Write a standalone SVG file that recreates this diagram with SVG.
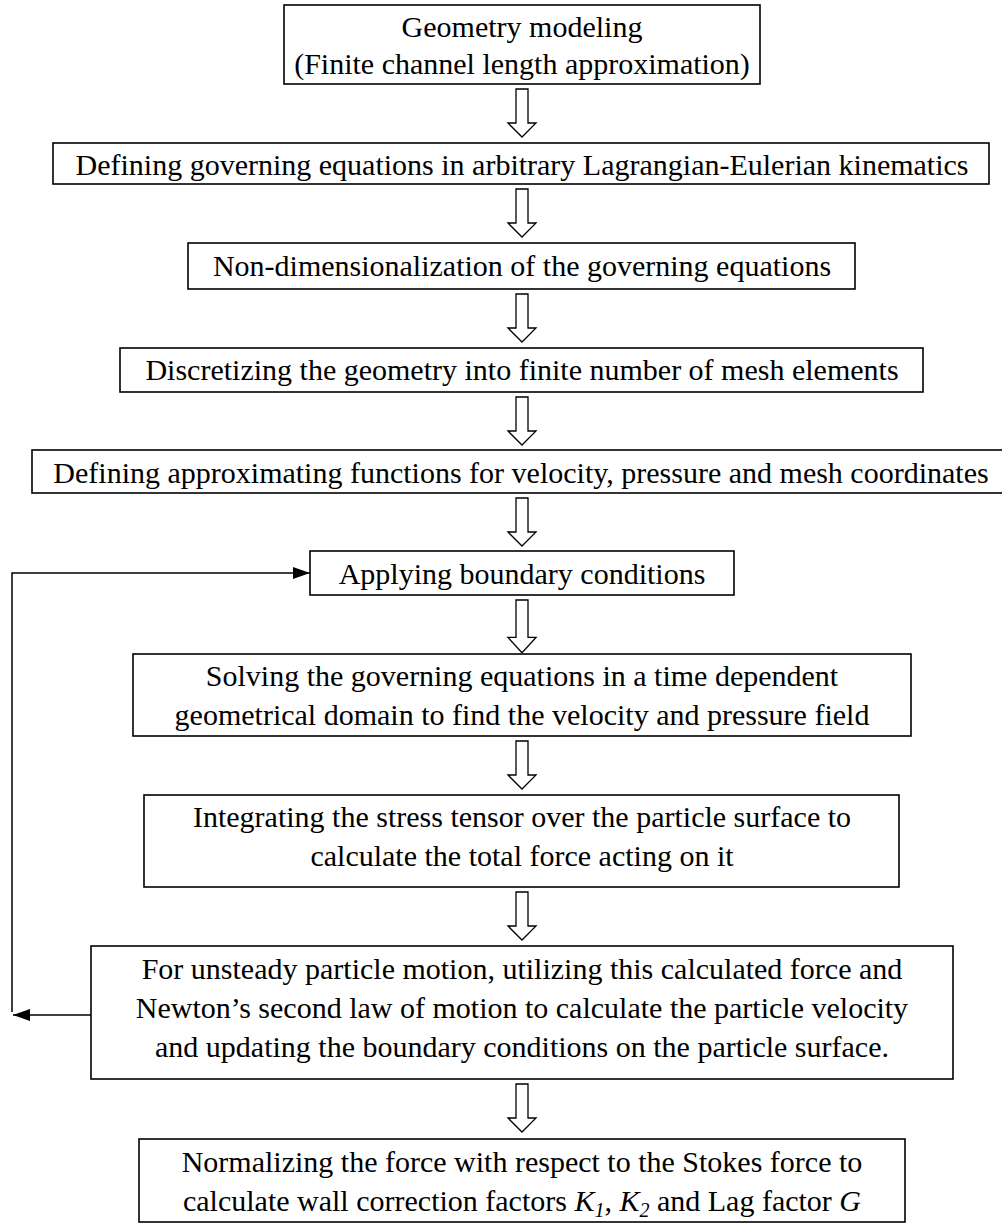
<svg xmlns="http://www.w3.org/2000/svg" width="1002" height="1224" viewBox="0 0 1002 1224">
<style>
.box{fill:#fff;stroke:#000;stroke-width:1.6}
.t{font-family:"Liberation Serif","Times New Roman",serif;font-size:30px;fill:#000;text-anchor:middle}
.ha{fill:#fff;stroke:#000;stroke-width:1.3;stroke-linejoin:miter}
.ln{fill:none;stroke:#000;stroke-width:1.5}
.i{font-style:italic}
</style>
<defs>
<marker id="ah" markerUnits="userSpaceOnUse" markerWidth="17" markerHeight="12" refX="17" refY="6" orient="auto">
<path d="M0,0 L17,6 L0,12 z" fill="#000"/>
</marker>
<path id="hollow" d="M-6,0 H6 V34 H14 L0,48 L-14,34 H-6 Z"/>
</defs>
<g id="n1"><rect class="box" x="284" y="5" width="476" height="79"/><text class="t" x="522" y="37">Geometry modeling</text><text class="t" x="522" y="74">(Finite channel length approximation)</text></g>
<g id="n2"><rect class="box" x="53" y="143" width="936" height="41"/><text class="t" x="522" y="175">Defining governing equations in arbitrary Lagrangian-Eulerian kinematics</text></g>
<g id="n3"><rect class="box" x="188" y="243" width="667" height="46"/><text class="t" x="522" y="276">Non-dimensionalization of the governing equations</text></g>
<g id="n4"><rect class="box" x="120" y="348" width="803" height="44"/><text class="t" x="522" y="380">Discretizing the geometry into finite number of mesh elements</text></g>
<g id="n5"><rect class="box" x="32" y="450" width="972" height="43"/><text class="t" x="521" y="483">Defining approximating functions for velocity, pressure and mesh coordinates</text></g>
<g id="n6"><rect class="box" x="310" y="551" width="424" height="44"/><text class="t" x="522" y="584">Applying boundary conditions</text></g>
<g id="n7"><rect class="box" x="133" y="654" width="778" height="82"/><text class="t" x="522" y="686">Solving the governing equations in a time dependent</text><text class="t" x="522" y="725">geometrical domain to find the velocity and pressure field</text></g>
<g id="n8"><rect class="box" x="144" y="795" width="755" height="92"/><text class="t" x="522" y="827">Integrating the stress tensor over the particle surface to</text><text class="t" x="522" y="866">calculate the total force acting on it</text></g>
<g id="n9"><rect class="box" x="91" y="946" width="862" height="133"/><text class="t" x="522" y="979">For unsteady particle motion, utilizing this calculated force and</text><text class="t" x="522" y="1018">Newton’s second law of motion to calculate the particle velocity</text><text class="t" x="522" y="1057">and updating the boundary conditions on the particle surface.</text></g>
<g id="n10"><rect class="box" x="139" y="1139" width="766" height="83"/><text class="t" x="522" y="1172">Normalizing the force with respect to the Stokes force to</text><text class="t" x="522" y="1211">calculate wall correction factors <tspan class="i">K</tspan><tspan class="i" font-size="20" dy="6">1</tspan><tspan dy="-6">, </tspan><tspan class="i">K</tspan><tspan class="i" font-size="20" dy="6">2</tspan><tspan dy="-6"> and Lag factor </tspan><tspan class="i">G</tspan></text></g>
<g id="connectors">
<use href="#hollow" class="ha" transform="translate(522,89)"/>
<use href="#hollow" class="ha" transform="translate(522,189)"/>
<use href="#hollow" class="ha" transform="translate(522,294)"/>
<use href="#hollow" class="ha" transform="translate(522,397)"/>
<use href="#hollow" class="ha" transform="translate(522,498)"/>
<use href="#hollow" class="ha" transform="translate(522,600) scale(1,1.1)"/>
<use href="#hollow" class="ha" transform="translate(522,741)"/>
<use href="#hollow" class="ha" transform="translate(522,892)"/>
<use href="#hollow" class="ha" transform="translate(522,1084)"/>
<path class="ln" d="M91,1015 H13" marker-end="url(#ah)"/>
<path class="ln" d="M12,1012 V573 H310" marker-end="url(#ah)"/>
</g>
</svg>
